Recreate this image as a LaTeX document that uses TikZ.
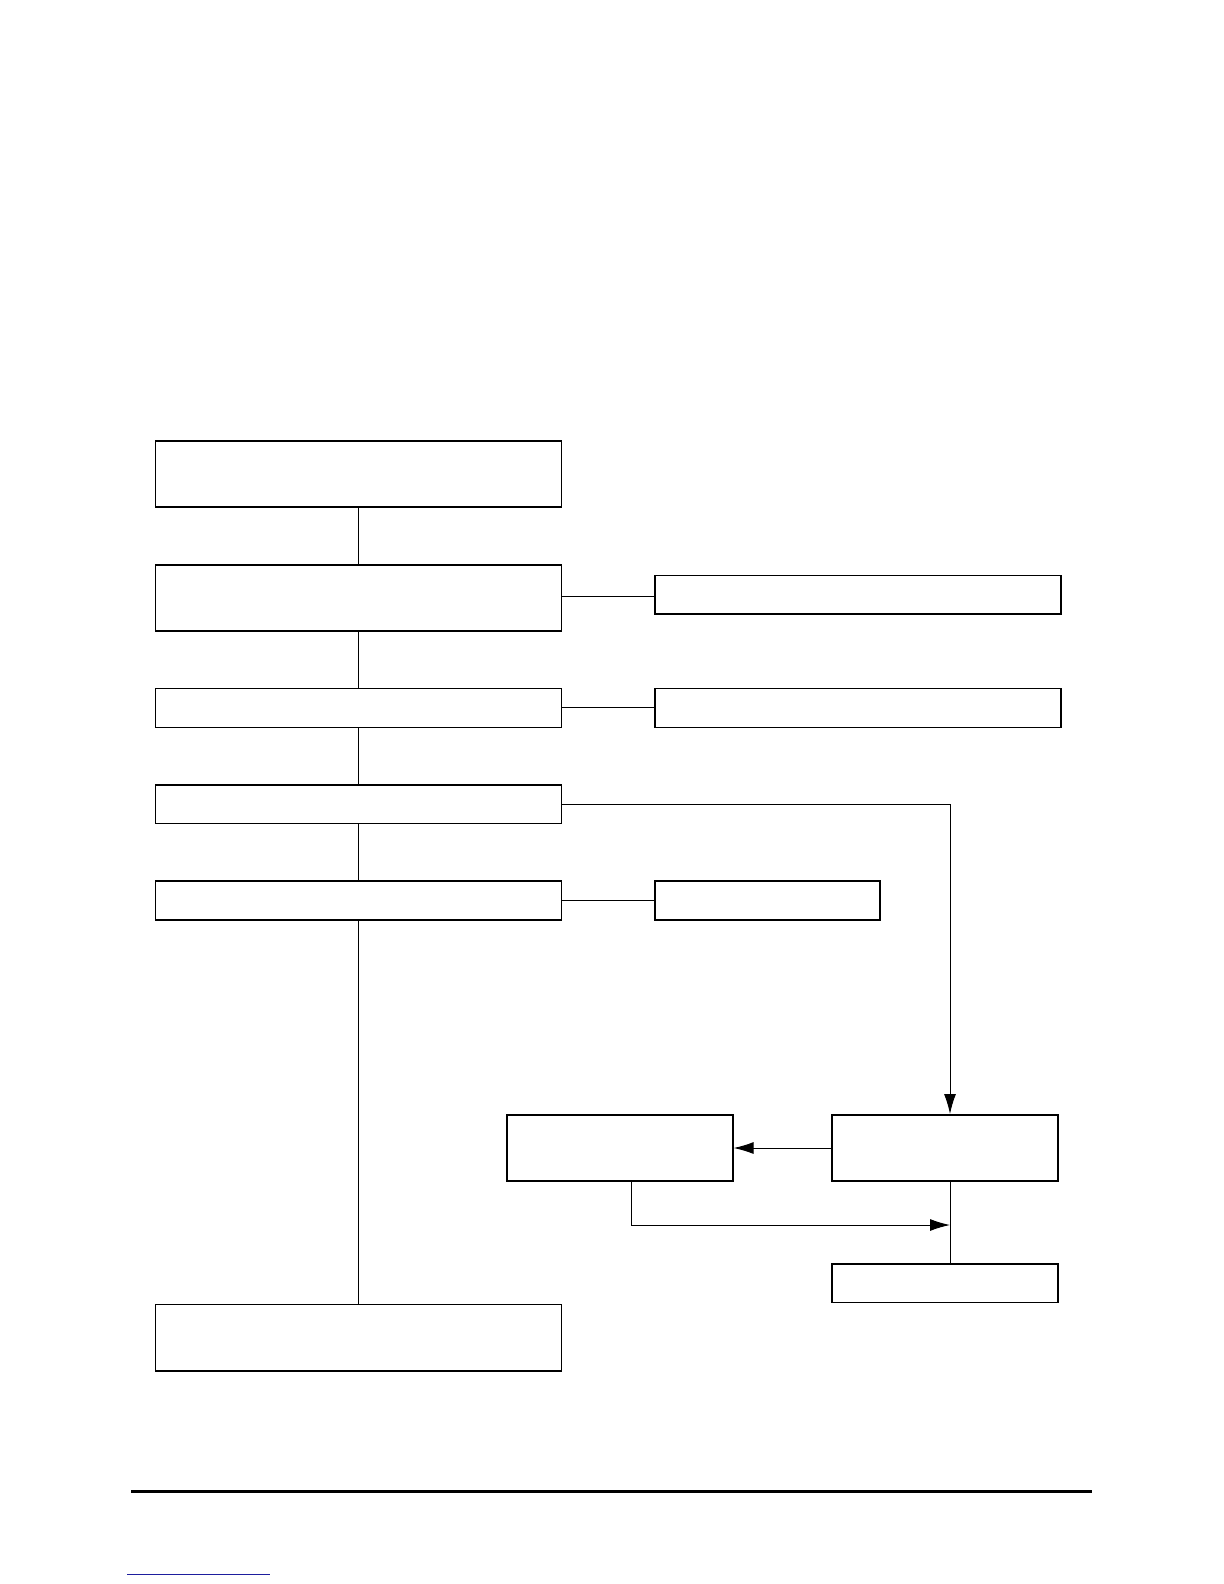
\documentclass[tikz,border=0pt]{standalone}
\usetikzlibrary{arrows.meta, positioning}
\definecolor{LinkBlue}{HTML}{1E1E9E}
\tikzset{
  bigbox/.style={draw, line width=0.8pt, minimum width=203pt, minimum height=33.2pt, inner sep=0pt},
  barbox/.style={draw, line width=0.8pt, minimum width=203pt, minimum height=19.35pt, inner sep=0pt},
  sidebox/.style={draw, line width=0.8pt, minimum width=113pt, minimum height=33.2pt, inner sep=0pt},
  tagbox/.style={draw, line width=0.8pt, minimum width=113pt, minimum height=19.35pt, inner sep=0pt},
  link/.style={line width=0.5pt},
  flow/.style={-{Latex[length=10pt, width=6pt]}, line width=0.5pt},
}
\begin{document}
\begin{tikzpicture}[x=0.5pt, y=-0.5pt, node distance=27.95pt and 46pt]
    \useasboundingbox (0,0) rectangle (1224,1584);
    % main column
    \node[bigbox, anchor=north west] (start) at (154.5,440) {};
    \node[bigbox, below=of start] (prep) {};
    \node[barbox, below=of prep] (check) {};
    \node[barbox, below=of check] (split) {};
    \node[barbox, below=of split] (merge) {};
    \node[bigbox, below=191.5pt of merge] (finish) {};
    % side column
    \node[barbox, right=of prep, yshift=1.5pt] (noteA) {};
    \node[barbox, right=of check] (noteB) {};
    \node[tagbox, minimum width=112.5pt, right=of merge] (noteC) {};
    \node[sidebox, anchor=north west] (retry) at (506,1114) {};
    \node[sidebox, anchor=north west] (branch) at (831,1114) {};
    \node[tagbox, below=40.5pt of branch] (done) {};
    \coordinate (rx) at (950,0);
    \coordinate (jct) at (950,1225);
    % connectors
    \draw[link] (start) -- (prep); \draw[link] (prep) -- (check);
    \draw[link] (check) -- (split); \draw[link] (split) -- (merge);
    \draw[link] (merge) -- (finish);
    \draw[link] ([yshift=0.8pt]prep.east) -- ([yshift=0.8pt]prep.east -| noteA.west);
    \draw[link] (check) -- (noteB); \draw[link] (merge) -- (noteC);
    \draw[flow] (split.east) -| (rx |- branch.north);
    \draw[flow] (branch.west) -- (branch.west -| retry.east);
    \draw[flow] ([xshift=5.75pt]retry.south) |- (jct);
    \draw[link] (rx |- branch.south) -- (rx |- done.north);
    % page rules
    \draw[line width=1.5pt] (131,1491.5) -- (1092,1491.5);
    \draw[LinkBlue, line width=0.6pt] (127,1574.5) -- (270,1574.5);
\end{tikzpicture}
\end{document}
